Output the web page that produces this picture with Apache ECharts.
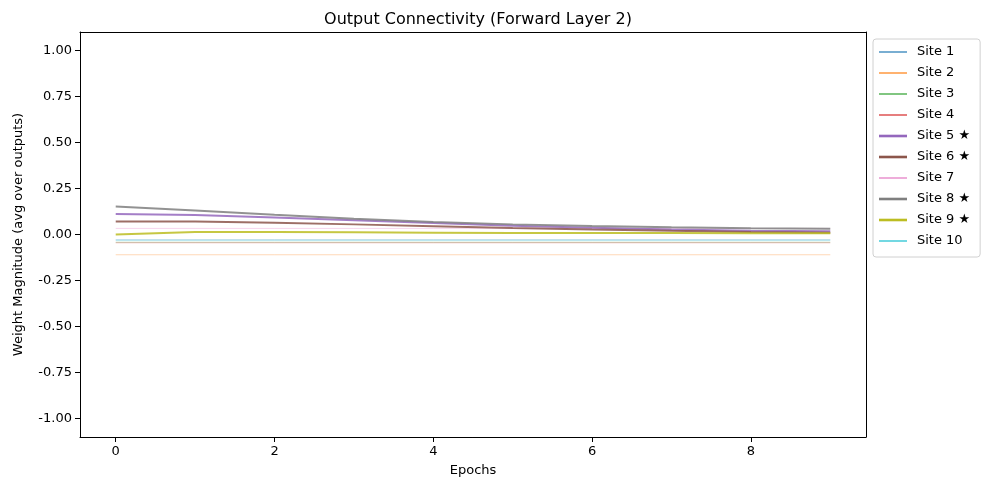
<!DOCTYPE html>
<html>
<head>
<meta charset="utf-8">
<script src="https://cdn.jsdelivr.net/npm/echarts@6/dist/echarts.min.js"></script>
<style>
  html, body { margin: 0; padding: 0; background: #fff; }
  #chart { width: 989px; height: 490px; }
</style>
</head>
<body>
<div id="chart"></div>
<script>
// epochs 0..9
let epochs = [0, 1, 2, 3, 4, 5, 6, 7, 8, 9];

let siteNames = ['Site 1', 'Site 2', 'Site 3', 'Site 4', 'Site 5 ★', 'Site 6 ★', 'Site 7', 'Site 8 ★', 'Site 9 ★', 'Site 10'];
let siteColors = ['#1f77b4', '#ff7f0e', '#2ca02c', '#d62728', '#9467bd', '#8c564b', '#e377c2', '#7f7f7f', '#bcbd22', '#17becf'];
let starred = [false, false, false, false, true, true, false, true, true, false];

// values
let site1 = [-0.029, -0.029, -0.029, -0.029, -0.029, -0.029, -0.029, -0.029, -0.029, -0.029];
let site2 = [-0.110, -0.110, -0.110, -0.110, -0.110, -0.110, -0.110, -0.110, -0.110, -0.110];
let site3 = [-0.042, -0.042, -0.042, -0.042, -0.042, -0.042, -0.042, -0.042, -0.042, -0.042];
let site4 = [-0.045, -0.045, -0.045, -0.045, -0.045, -0.045, -0.045, -0.045, -0.045, -0.045];
let site5 = [0.112, 0.106, 0.093, 0.078, 0.062, 0.048, 0.036, 0.027, 0.021, 0.018];
let site6 = [0.071, 0.071, 0.064, 0.055, 0.045, 0.035, 0.027, 0.020, 0.014, 0.010];
let site7 = [0.033, 0.033, 0.033, 0.033, 0.033, 0.033, 0.033, 0.033, 0.033, 0.033];
let site8 = [0.152, 0.130, 0.107, 0.085, 0.068, 0.055, 0.046, 0.039, 0.034, 0.031];
let site9 = [0.000, 0.013, 0.013, 0.012, 0.010, 0.008, 0.008, 0.008, 0.007, 0.007];
let site10 = [-0.031, -0.031, -0.031, -0.031, -0.031, -0.031, -0.031, -0.031, -0.031, -0.031];
let siteData = [site1, site2, site3, site4, site5, site6, site7, site8, site9, site10];

let xTicks = [0, 2, 4, 6, 8];
let yTicks = [-1.0, -0.75, -0.5, -0.25, 0, 0.25, 0.5, 0.75, 1.0];

var myChart = echarts.init(document.getElementById('chart'));
const font = 'DejaVu Sans';

let series = siteNames.map(function (name, i) {
    return {
        name: name,
        type: 'line',
        showSymbol: false,
        symbol: 'none',
        color: siteColors[i],
        lineStyle: {
            width: starred[i] ? 2 : 1,
            opacity: starred[i] ? 0.85 : 0.3
        },
        z: starred[i] ? 3 : 2,
        data: epochs.map((e, k) => [e, siteData[i][k]])
    };
});

// thin / thick bar as a legend line
const thinIcon = 'path://M0,0H28V1.2H0Z';
const thickIcon = 'path://M0,0H28V2.6H0Z';

// plain frame line for top / right sides
const frameAxis = {
    axisLine: { show: true, onZero: false, lineStyle: { color: '#000' } },
    axisTick: { show: false },
    axisLabel: { show: false },
    splitLine: { show: false }
};

let option = {
    animation: false,
    textStyle: { fontFamily: font },
    title: {
        text: 'Output Connectivity (Forward Layer 2)',
        left: 473,
        textAlign: 'center',
        top: 7,
        textStyle: { fontSize: 16, fontWeight: 'normal', color: '#000', fontFamily: font }
    },
    legend: {
        orient: 'vertical',
        left: 873,
        top: 39,
        padding: [6, 10, 9, 6],
        itemWidth: 28,
        itemHeight: 14,
        itemGap: 7,
        borderColor: '#d0d0d0',
        borderWidth: 1,
        borderRadius: 3,
        textStyle: { fontSize: 13, color: '#000', fontFamily: font, padding: [0, 0, 0, 5], lineHeight: 14 },
        data: siteNames.map((n, i) => ({
            name: n,
            icon: starred[i] ? thickIcon : thinIcon,
            itemStyle: { color: siteColors[i], opacity: 1 }
        }))
    },
    grid: {
        left: 80,
        right: 123,
        top: 32,
        bottom: 53
    },
    xAxis: [{
        type: 'value',
        min: -0.45,
        max: 9.45,
        name: 'Epochs',
        nameLocation: 'middle',
        nameGap: 27,
        nameTextStyle: { fontSize: 13, color: '#000' },
        axisLine: { show: true, onZero: false, lineStyle: { color: '#000' } },
        axisTick: { show: true, inside: false, length: 5, lineStyle: { color: '#000', width: 1 }, customValues: xTicks },
        axisLabel: { fontSize: 13, color: '#000', margin: 8, customValues: xTicks },
        splitLine: { show: false }
    }, Object.assign({ type: 'value', position: 'top', min: -0.45, max: 9.45 }, frameAxis)],
    yAxis: [{
        type: 'value',
        min: -1.1,
        max: 1.1,
        name: 'Weight Magnitude (avg over outputs)',
        nameLocation: 'middle',
        nameGap: 55,
        nameTextStyle: { fontSize: 13, color: '#000' },
        axisLine: { show: true, onZero: false, lineStyle: { color: '#000' } },
        axisTick: { show: true, inside: false, length: 5, lineStyle: { color: '#000', width: 1 }, customValues: yTicks },
        axisLabel: {
            fontSize: 13, color: '#000', margin: 8, customValues: yTicks,
            formatter: function (v) { return v.toFixed(2); }
        },
        splitLine: { show: false }
    }, Object.assign({ type: 'value', position: 'right', min: -1.1, max: 1.1 }, frameAxis)],
    series: series
};

myChart.setOption(option);
</script>
</body>
</html>
